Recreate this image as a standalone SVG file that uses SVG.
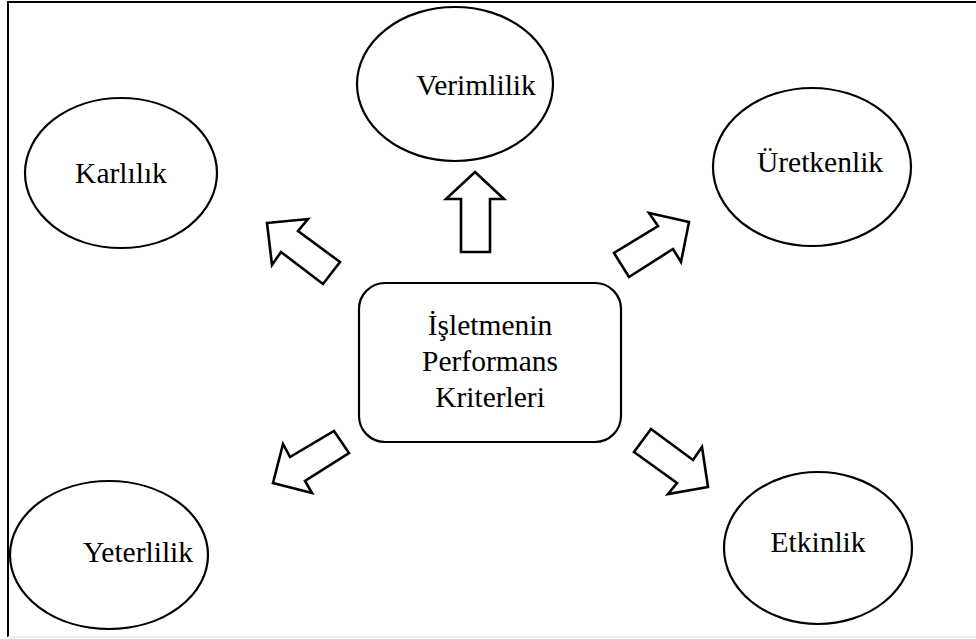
<svg xmlns="http://www.w3.org/2000/svg" width="976" height="639" viewBox="0 0 976 639">
<style>
.n{fill:#fff;stroke:#000;stroke-width:2.2}
.a{fill:#fff;stroke:#000;stroke-width:2.6;stroke-linejoin:miter}
.t{font-family:"Liberation Serif","Times New Roman",serif;font-size:29.5px;fill:#000;text-anchor:middle}
</style>
<rect x="0" y="0" width="976" height="639" fill="#fff"/>
<g id="frame">
<path d="M8 637 V2 H976" fill="none" stroke="#000" stroke-width="2"/>
<path d="M8 637 H976" fill="none" stroke="#e6e6e6" stroke-width="1.5"/>
</g>
<g id="connectors">
<polygon class="a" points="267,223 308,219 298,231 340,262 323,284 281,252 272,265"/>
<polygon class="a" points="475,172 504,199 490,199 490,252 461,252 461,199 446,199"/>
<polygon class="a" points="689,222 681,262 673,249 629,277 614,253 658,226 649,213"/>
<polygon class="a" points="273,483 283,444 290,457 334,431 349,453 305,481 312,493"/>
<polygon class="a" points="708,487 668,494 677,483 634,452 651,429 693,460 702,447"/>
</g>
<g id="center">
<rect class="n" x="359" y="283" width="262" height="159" rx="26" ry="26"/>
<text class="t" x="490" y="335">İşletmenin</text>
<text class="t" x="490" y="371">Performans</text>
<text class="t" x="490" y="407">Kriterleri</text>
</g>
<g id="verimlilik">
<ellipse class="n" cx="455" cy="84" rx="98" ry="77"/>
<text class="t" x="476" y="95">Verimlilik</text>
</g>
<g id="karlilik">
<ellipse class="n" cx="121" cy="173" rx="96" ry="75"/>
<text class="t" x="121" y="183">Karlılık</text>
</g>
<g id="uretkenlik">
<ellipse class="n" cx="812" cy="167" rx="99" ry="79"/>
<text class="t" x="820" y="172">Üretkenlik</text>
</g>
<g id="yeterlilik">
<ellipse class="n" cx="109" cy="555" rx="99" ry="74"/>
<text class="t" x="138" y="562">Yeterlilik</text>
</g>
<g id="etkinlik">
<ellipse class="n" cx="818" cy="548" rx="94" ry="76"/>
<text class="t" x="818" y="552">Etkinlik</text>
</g>
</svg>
